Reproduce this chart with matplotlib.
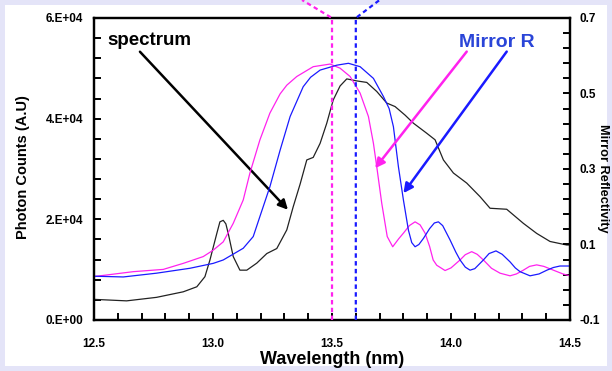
import matplotlib
matplotlib.use('Agg')
import matplotlib.pyplot as plt
import matplotlib.transforms as mtransforms
from matplotlib.patches import Rectangle

plt.rcParams['font.family'] = ['Liberation Sans', 'DejaVu Sans']
plt.rcParams['font.weight'] = 'bold'
plt.rcParams['axes.labelweight'] = 'bold'

# measured EUV spectrum (photon counts)
spec_wl = [12.50, 12.637, 12.763, 12.875, 12.932, 12.966, 12.987, 13.016, 13.029, 13.043,
           13.054, 13.064, 13.085, 13.113, 13.142, 13.184, 13.226, 13.268, 13.310, 13.337,
           13.366, 13.394, 13.421, 13.450, 13.478, 13.505, 13.534, 13.562, 13.604, 13.646,
           13.688, 13.730, 13.765, 13.807, 13.842, 13.898, 13.933, 13.968, 14.010, 14.066,
           14.122, 14.164, 14.234, 14.304, 14.360, 14.416, 14.486, 14.50]
spec_counts = [4100, 3800, 4500, 5600, 6600, 8600, 11900, 17200, 19500, 19800,
               19100, 17200, 12600, 9900, 9900, 11300, 13200, 14200, 17900, 22500,
               27000, 31800, 32300, 35100, 39100, 43700, 46500, 47900, 47500, 47200,
               45400, 43100, 42400, 40700, 39100, 37100, 35800, 31800, 29200, 27200,
               24500, 22200, 22000, 19200, 17200, 15600, 14900, 14900]

# mirror reflectivity, design centred at 13.5 nm
pink_wl = [12.50, 12.665, 12.791, 12.875, 12.959, 13.001, 13.043, 13.085, 13.127, 13.155,
           13.197, 13.239, 13.282, 13.310, 13.352, 13.421, 13.492, 13.534, 13.576, 13.618,
           13.653, 13.674, 13.688, 13.709, 13.732, 13.755, 13.780, 13.800, 13.825, 13.849,
           13.870, 13.891, 13.910, 13.925, 13.940, 13.975, 14.000, 14.038, 14.060, 14.087,
           14.110, 14.136, 14.170, 14.206, 14.248, 14.275, 14.304, 14.330, 14.360, 14.390,
           14.430, 14.470, 14.50]
pink_r = [0.015, 0.028, 0.034, 0.050, 0.068, 0.085, 0.107, 0.156, 0.218, 0.289,
          0.377, 0.448, 0.499, 0.522, 0.545, 0.571, 0.578, 0.567, 0.545, 0.501,
          0.439, 0.368, 0.306, 0.209, 0.121, 0.094, 0.115, 0.130, 0.150, 0.160,
          0.152, 0.130, 0.095, 0.059, 0.045, 0.031, 0.038, 0.059, 0.073, 0.081,
          0.074, 0.059, 0.037, 0.024, 0.017, 0.022, 0.032, 0.042, 0.046, 0.042,
          0.032, 0.022, 0.017]

# mirror reflectivity, design centred at 13.6 nm
blue_wl = [12.50, 12.623, 12.763, 12.903, 13.001, 13.043, 13.127, 13.169, 13.197, 13.239,
           13.282, 13.324, 13.379, 13.410, 13.450, 13.520, 13.569, 13.618, 13.674, 13.716,
           13.740, 13.758, 13.779, 13.800, 13.821, 13.835, 13.849, 13.865, 13.884, 13.910,
           13.930, 13.947, 13.965, 13.996, 14.020, 14.038, 14.060, 14.080, 14.100, 14.136,
           14.160, 14.189, 14.215, 14.248, 14.270, 14.290, 14.332, 14.370, 14.403, 14.430,
           14.458, 14.50]
blue_r = [0.016, 0.014, 0.024, 0.037, 0.050, 0.059, 0.090, 0.121, 0.174, 0.253,
          0.350, 0.439, 0.518, 0.543, 0.562, 0.575, 0.580, 0.571, 0.540, 0.492,
          0.460, 0.412, 0.306, 0.218, 0.138, 0.105, 0.094, 0.100, 0.116, 0.142,
          0.157, 0.160, 0.150, 0.112, 0.080, 0.059, 0.040, 0.032, 0.036, 0.059,
          0.076, 0.083, 0.074, 0.054, 0.038, 0.028, 0.017, 0.022, 0.032, 0.039,
          0.043, 0.043]

peak_pink = 13.5
peak_blue = 13.6

x_ticks = [12.5, 13.0, 13.5, 14.0, 14.5]
x_labels = ['12.5', '13.0', '13.5', '14.0', '14.5']
left_ticks = [0, 20000, 40000, 60000]
left_labels = ['0.E+00', '2.E+04', '4.E+04', '6.E+04']
right_ticks = [-0.1, 0.1, 0.3, 0.5, 0.7]
right_labels = ['-0.1', '0.1', '0.3', '0.5', '0.7']

PINK = '#ff22ee'
BLUE = '#1a1aff'

fig = plt.figure(figsize=(6.12, 3.71), dpi=100)
fig.patch.set_facecolor('#e4e4f8')
fig.patches.append(Rectangle((0.0082, 0.0135), 0.9837, 0.973, transform=fig.transFigure,
                             facecolor='white', edgecolor='none', zorder=-10))

ax = fig.add_axes([0.1536, 0.1375, 0.7778, 0.814])
ax.set_facecolor('none')
ax2 = ax.twinx()

ax.plot(spec_wl, spec_counts, color='#222222', lw=0.9)
ax2.plot(pink_wl, pink_r, color=PINK, lw=0.9)
ax2.plot(blue_wl, blue_r, color=BLUE, lw=0.9)

ax.set_xlim(12.5, 14.5)
ax.set_ylim(0, 60000)
ax2.set_ylim(-0.1, 0.7)

# dotted markers at the two design wavelengths, running out through the top
blend = mtransforms.blended_transform_factory(ax2.transData, ax2.transAxes)
for xv, col, dx in [(peak_pink, PINK, -0.126), (peak_blue, BLUE, 0.1)]:
    ax2.plot([xv, xv, xv + dx], [0, 1, 1.0596], transform=blend, color=col,
             lw=1.6, ls=(0, (2, 1.5)), clip_on=False, zorder=5)

ax.set_xticks(x_ticks)
ax.set_xticklabels(x_labels)
ax.set_xticks([12.5 + 0.1 * i for i in range(21)], minor=True)
ax.set_yticks(left_ticks)
ax.set_yticklabels(left_labels)
ax.set_yticks(range(0, 60001, 4000), minor=True)
ax2.set_yticks(right_ticks)
ax2.set_yticklabels(right_labels)
ax2.set_yticks([-0.1 + 0.04 * i for i in range(21)], minor=True)

for a in (ax, ax2):
    a.tick_params(which='both', direction='in', length=5, width=1.4, labelsize=8.5)
    for s in a.spines.values():
        s.set_linewidth(1.6)
ax.tick_params(axis='x', pad=13)
ax.tick_params(axis='y', pad=8)
ax2.tick_params(axis='y', pad=7)

ax.set_xlabel('Wavelength (nm)', fontsize=13, labelpad=1)
ax.set_ylabel('Photon Counts (A.U)', fontsize=10.5, va='center')
ax.yaxis.set_label_coords(-0.15, 0.508)
ax2.set_ylabel('Mirror Reflectivity', fontsize=9.2, rotation=-90, va='center')
ax2.yaxis.set_label_coords(1.069, 0.47)

ax.text(12.555, 55600, 'spectrum', fontsize=13.5, va='center', ha='left')
ax.annotate('', xy=(13.315, 21900), xytext=(12.693, 53300),
            arrowprops=dict(arrowstyle='-|>', color='black', lw=1.8,
                            mutation_scale=14, shrinkA=0, shrinkB=0))

ax2.text(14.193, 0.636, 'Mirror R', fontsize=14, color='#2a45d8', va='center', ha='center')
ax2.annotate('', xy=(13.681, 0.302), xytext=(14.066, 0.611),
             arrowprops=dict(arrowstyle='-|>', color=PINK, lw=1.8,
                             mutation_scale=14, shrinkA=0, shrinkB=0))
ax2.annotate('', xy=(13.800, 0.236), xytext=(14.234, 0.611),
             arrowprops=dict(arrowstyle='-|>', color=BLUE, lw=1.8,
                             mutation_scale=14, shrinkA=0, shrinkB=0))

fig.savefig('out.png', dpi=100, facecolor=fig.get_facecolor())
